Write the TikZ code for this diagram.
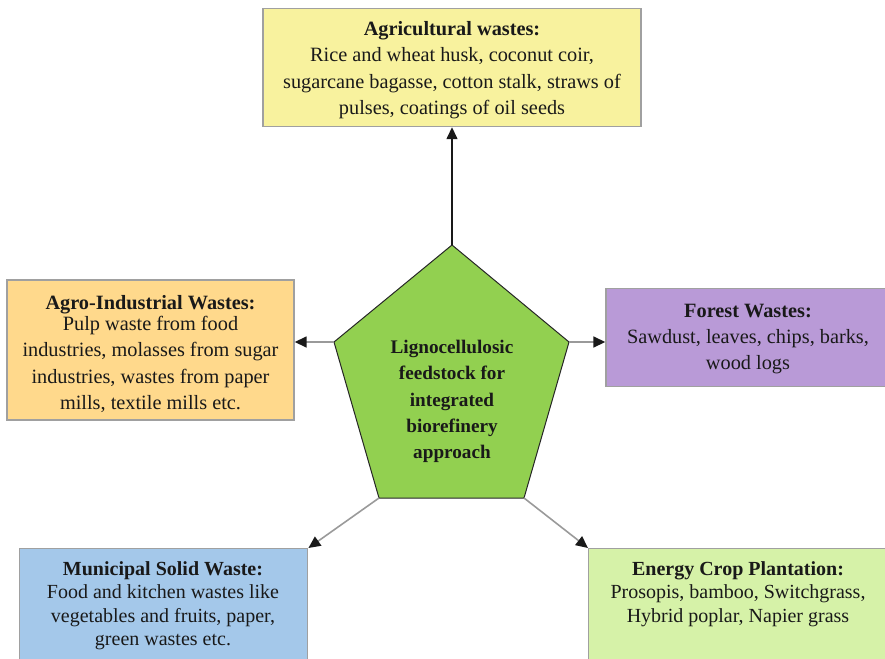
\documentclass[tikz,border=0pt]{standalone}
\usepackage{fontspec}
\setmainfont{Liberation Serif}
\usetikzlibrary{arrows.meta}
\definecolor{cyel}{HTML}{F8F29E}
\definecolor{corg}{HTML}{FFD98C}
\definecolor{cpur}{HTML}{B99AD7}
\definecolor{cblu}{HTML}{A4C8EA}
\definecolor{clgr}{HTML}{D6F2A8}
\definecolor{cpen}{HTML}{92D050}
\definecolor{cbord}{HTML}{A0A0A0}
\definecolor{cline}{HTML}{9A9A9A}
\tikzset{
  box/.style={draw=cbord, line width=1.4pt, rectangle, inner sep=0pt},
  mtext/.style={align=center, inner sep=0pt, font=\fontsize{20.3}{26.3}\selectfont, text=black!90},
  btext/.style={align=center, inner sep=0pt, font=\fontsize{20}{23.5}\selectfont, text=black!90},
  conn/.style={draw=cline, line width=1.6pt, -{Triangle[length=12pt,width=11pt,color=black!90]}},
  topconn/.style={draw=black!90, line width=1.4pt, -{Triangle[length=12pt,width=11pt,color=black!90]}},
  pent/.style={draw=black!85, line width=1pt, fill=cpen},
}
\begin{document}
\begin{tikzpicture}[x=1pt,y=-1pt]
\useasboundingbox (0,0) rectangle (885,658);
\path[clip] (0,0) rectangle (885,658);
% pentagon
\coordinate (pt) at (452,245);
\coordinate (pr) at (569,342);
\coordinate (pbr) at (524,498);
\coordinate (pbl) at (379,498);
\coordinate (pl) at (334,342);
\draw[pent] (pt) -- (pr) -- (pbr) -- (pbl) -- (pl) -- cycle;
\node[align=center, inner sep=0pt, font=\fontsize{19.2}{26.3}\selectfont\bfseries, text=black!90] (ctr) at (452,401.5)
  {Lignocellulosic\\feedstock for\\integrated\\biorefinery\\approach};
% boxes
\node[box, fill=cyel, minimum width=378pt, minimum height=118pt] (agri) at (452,67.5) {};
\node[mtext] (agritext) at (452,70)
  {\textbf{Agricultural wastes:}\\Rice and wheat husk, coconut coir,\\sugarcane bagasse, cotton stalk, straws of\\pulses, coatings of oil seeds};
\node[box, fill=corg, minimum width=287pt, minimum height=140pt] (agro) at (150.5,350) {};
\node[mtext] (agrotext) at (150.5,354)
  {\textbf{Agro-Industrial Wastes:}\\[-5pt]Pulp waste from food\\industries, molasses from sugar\\industries, wastes from paper\\mills, textile mills etc.};
\node[box, fill=cpur, minimum width=284pt, minimum height=98pt] (forest) at (748,337.5) {};
\node[mtext] (foresttext) at (748,339)
  {\textbf{Forest Wastes:}\\Sawdust, leaves, chips, barks,\\wood logs};
\node[box, fill=cblu, minimum width=288pt, minimum height=130pt, anchor=north west] (muni) at (19,548) {};
\node[btext, anchor=north] (munitext) at (163,561)
  {\textbf{Municipal Solid Waste:}\\Food and kitchen wastes like\\vegetables and fruits, paper,\\green wastes etc.};
\node[box, fill=clgr, minimum width=300pt, minimum height=130pt, anchor=north west] (energy) at (588,548) {};
\node[btext, anchor=north] (energytext) at (738,561)
  {\textbf{Energy Crop Plantation:}\\Prosopis, bamboo, Switchgrass,\\Hybrid poplar, Napier grass};
% connectors
\draw[topconn] (pt) -- (agri.south);
\draw[conn] (pl) -- (pl -| agro.east);
\draw[conn] (pr) -- (pr -| forest.west);
\draw[conn] (pbl) -- (muni.north east);
\draw[conn] (pbr) -- (energy.north west);
\end{tikzpicture}
\end{document}
